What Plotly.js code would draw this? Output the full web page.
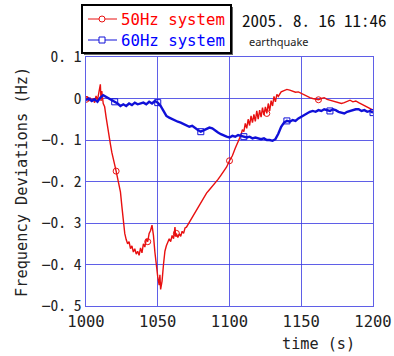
<!DOCTYPE html>
<html><head><meta charset="utf-8">
<script src="https://cdn.plot.ly/plotly-3.0.1.min.js"></script>
<style>html,body{margin:0;padding:0;background:#fff}#chart{width:394px;height:356px}</style>
</head><body><div id="chart"></div>
<script>
const redT = [1000,1001,1002,1003,1004,1005,1006,1007,1008,1009,1010,1010.5,1011,1012,1013,1014,1015,1016,1017,1018,1019,1020,1021,1022,1023,1024,1025,1026,1027,1028,1029,1030,1031,1032,1033,1034,1035,1036,1037,1038,1039,1040,1041,1042,1043,1044,1045,1046,1047,1048,1049,1050,1051,1051.5,1052,1053,1054,1055,1056,1057,1058,1059,1060,1061,1062,1062.5,1063,1064,1065,1066,1067,1068,1069,1070,1072,1074,1076,1078,1080,1082,1084,1086,1088,1090,1092,1094,1096,1098,1100,1102,1104,1106,1108,1109,1110,1111,1112,1113,1114,1115,1116,1117,1118,1119,1120,1121,1122,1123,1124,1125,1126,1127,1128,1129,1130,1131,1132,1133,1134,1136,1138,1140,1142,1144,1146,1148,1150,1152,1154,1156,1158,1160,1162,1164,1166,1168,1170,1172,1174,1176,1178,1180,1182,1184,1186,1188,1190,1192,1194,1196,1198,1200];
const redF = [-0.002,0.004,-0.006,0.002,-0.008,0.000,-0.010,0.006,-0.004,0.020,0.034,-0.006,0.018,-0.012,-0.020,-0.045,-0.070,-0.090,-0.110,-0.130,-0.150,-0.160,-0.175,-0.190,-0.205,-0.225,-0.260,-0.300,-0.325,-0.340,-0.350,-0.345,-0.362,-0.355,-0.370,-0.362,-0.375,-0.368,-0.378,-0.360,-0.372,-0.350,-0.358,-0.338,-0.345,-0.325,-0.318,-0.305,-0.330,-0.370,-0.410,-0.430,-0.450,-0.425,-0.460,-0.440,-0.400,-0.368,-0.355,-0.345,-0.338,-0.345,-0.330,-0.338,-0.310,-0.332,-0.325,-0.335,-0.326,-0.332,-0.320,-0.325,-0.312,-0.310,-0.298,-0.285,-0.275,-0.262,-0.250,-0.240,-0.228,-0.220,-0.212,-0.203,-0.195,-0.185,-0.175,-0.165,-0.150,-0.138,-0.120,-0.105,-0.088,-0.075,-0.080,-0.060,-0.072,-0.050,-0.065,-0.042,-0.058,-0.038,-0.055,-0.030,-0.050,-0.028,-0.045,-0.022,-0.040,-0.020,-0.036,-0.012,-0.030,-0.005,-0.018,0.005,-0.008,0.010,0.005,0.016,0.020,0.022,0.020,0.018,0.015,0.016,0.012,0.008,0.004,0.002,0.000,-0.002,-0.003,0.000,0.002,-0.002,-0.004,-0.006,-0.008,-0.010,-0.012,-0.010,-0.006,-0.004,-0.008,-0.006,-0.010,-0.014,-0.016,-0.020,-0.024,-0.028];
const blueT = [1000,1002,1004,1006,1008,1010,1012,1014,1016,1018,1020,1022,1024,1026,1028,1030,1032,1034,1036,1038,1040,1042,1044,1046,1048,1050,1052,1054,1056,1058,1060,1062,1064,1066,1068,1070,1072,1074,1076,1078,1080,1082,1084,1086,1088,1090,1092,1094,1096,1098,1100,1102,1104,1106,1108,1110,1112,1114,1116,1118,1120,1122,1124,1126,1128,1130,1132,1134,1136,1138,1140,1142,1144,1146,1148,1150,1152,1154,1156,1158,1160,1162,1164,1166,1168,1170,1172,1174,1176,1178,1180,1182,1184,1186,1188,1190,1192,1194,1196,1198,1200];
const blueF = [-0.004,0.000,-0.006,-0.002,-0.008,0.002,0.008,0.004,0.002,-0.004,-0.008,-0.012,-0.018,-0.014,-0.018,-0.012,-0.016,-0.010,-0.014,-0.012,-0.010,-0.014,-0.008,-0.012,-0.006,-0.010,-0.018,-0.030,-0.042,-0.046,-0.050,-0.052,-0.056,-0.058,-0.062,-0.064,-0.068,-0.066,-0.072,-0.076,-0.080,-0.076,-0.074,-0.070,-0.072,-0.078,-0.082,-0.086,-0.090,-0.092,-0.094,-0.090,-0.092,-0.088,-0.090,-0.092,-0.094,-0.092,-0.096,-0.094,-0.096,-0.098,-0.096,-0.100,-0.100,-0.102,-0.098,-0.085,-0.068,-0.058,-0.054,-0.056,-0.052,-0.054,-0.048,-0.044,-0.038,-0.034,-0.032,-0.030,-0.032,-0.028,-0.030,-0.026,-0.028,-0.030,-0.026,-0.028,-0.032,-0.034,-0.036,-0.032,-0.030,-0.028,-0.026,-0.026,-0.030,-0.028,-0.032,-0.030,-0.034];
const seriesNames = ['50Hz system', '60Hz system'];
const yTickVals = [0.1,0,-0.1,-0.2,-0.3,-0.4,-0.5];
const yTickText = ['0. 1','0','−0. 1','−0. 2','−0. 3','−0. 4','−0. 5'];
const xTickVals = [1000,1050,1100,1150,1200];
const xTickText = ['1000','1050','1100','1150','1200'];

const MONO = '"Noto Sans Mono CJK JP", "DejaVu Sans Mono", monospace';
const DMONO = '"DejaVu Sans Mono", monospace';
const grid = 'rgba(55,55,225,0.8)';
const RED = '#e81010', BLUE = '#1010d8';

// tick labels: render the minus sign narrow (half-width) like the original
const yTickHtml = yTickText.map(s => s.replace('−', '<span style="font-family:DejaVu Sans Mono">−</span>'));

const traces = [
  {x: redT, y: redF, mode: 'lines+markers', name: seriesNames[0], showlegend: false,
   line: {color: RED, width: 1.4},
   marker: {symbol: 'circle-open', size: 6, color: RED, line: {width: 1}, maxdisplayed: 7}},
  {x: blueT, y: blueF, mode: 'lines+markers', name: seriesNames[1], showlegend: false,
   line: {color: BLUE, width: 2.4},
   marker: {symbol: 'square-open', size: 6, color: BLUE, line: {width: 1}, maxdisplayed: 7}}
];

// helpers: pixel -> paper coordinates (plot area 86..373 x, 57..306 y)
const L = 86, W = 287, B = 306, H = 249;
const px = v => (v - L) / W;
const py = v => (B - v) / H;

const shapes = [
  // legend box shadow + box
  {type: 'rect', xref: 'paper', yref: 'paper', x0: px(84), x1: px(233), y0: py(55), y1: py(7),
   fillcolor: '#666', line: {width: 0}},
  {type: 'rect', xref: 'paper', yref: 'paper', x0: px(82), x1: px(231), y0: py(53), y1: py(5),
   fillcolor: '#fff', line: {color: '#000', width: 2}},
  // legend symbols
  {type: 'line', xref: 'paper', yref: 'paper', x0: px(88), x1: px(117), y0: py(19), y1: py(19), line: {color: RED, width: 1}},
  {type: 'circle', xref: 'paper', yref: 'paper', x0: px(99), x1: px(105), y0: py(22), y1: py(16), fillcolor: '#fff', line: {color: RED, width: 1}},
  {type: 'line', xref: 'paper', yref: 'paper', x0: px(88), x1: px(117), y0: py(40), y1: py(40), line: {color: BLUE, width: 1}},
  {type: 'rect', xref: 'paper', yref: 'paper', x0: px(99), x1: px(105), y0: py(43), y1: py(37), fillcolor: '#fff', line: {color: BLUE, width: 1}}
];

const layout = {
  width: 394, height: 356,
  margin: {l: L, r: 394 - L - W, t: 57, b: 356 - B, autoexpand: false},
  paper_bgcolor: '#fff', plot_bgcolor: '#fff',
  showlegend: false,
  xaxis: {range: [1000, 1200], tickvals: xTickVals, ticktext: xTickText,
    showgrid: true, gridcolor: grid, gridwidth: 1, zeroline: false,
    showline: true, linecolor: grid, linewidth: 1.3, mirror: true, ticks: '',
    ticklabelstandoff: 1,
    tickfont: {family: DMONO, size: 15.5, color: '#222'}},
  yaxis: {range: [-0.5, 0.1], tickvals: yTickVals, ticktext: yTickHtml,
    showgrid: true, gridcolor: grid, gridwidth: 1, zeroline: false,
    showline: true, linecolor: grid, linewidth: 1.3, mirror: true, ticks: '',
    tickfont: {family: MONO, size: 15.5, color: '#222'}},
  shapes: shapes,
  annotations: [
    {xref: 'paper', yref: 'paper', x: px(119), y: py(19), xanchor: 'left', yanchor: 'middle',
     text: seriesNames[0], showarrow: false, font: {family: DMONO, size: 15.7, color: '#ff0000'}},
    {xref: 'paper', yref: 'paper', x: px(119), y: py(40), xanchor: 'left', yanchor: 'middle',
     text: seriesNames[1], showarrow: false, font: {family: DMONO, size: 15.7, color: '#0000ff'}},
    {xref: 'paper', yref: 'paper', x: px(318), y: py(344), xanchor: 'center', yanchor: 'middle',
     text: 'time (s)', showarrow: false, font: {family: DMONO, size: 15.2, color: '#222'}},
    {xref: 'paper', yref: 'paper', x: px(22), y: py(182), xanchor: 'center', yanchor: 'middle', textangle: -90,
     text: 'Frequency Deviations (Hz)', showarrow: false, font: {family: DMONO, size: 15.3, color: '#222'}},
    {xref: 'paper', yref: 'paper', x: px(389), y: py(20), xanchor: 'right', yanchor: 'middle',
     text: '2005. 8. 16 11:46', showarrow: false, font: {family: MONO, size: 17, color: '#111'}},
    {xref: 'paper', yref: 'paper', x: px(247), y: py(42), xanchor: 'left', yanchor: 'middle',
     text: 'earthquake', showarrow: false, font: {family: 'Noto Sans, sans-serif', size: 11, color: '#222'}}
  ]
};
Plotly.newPlot('chart', traces, layout, {displayModeBar: false, staticPlot: true});
</script></body></html>
